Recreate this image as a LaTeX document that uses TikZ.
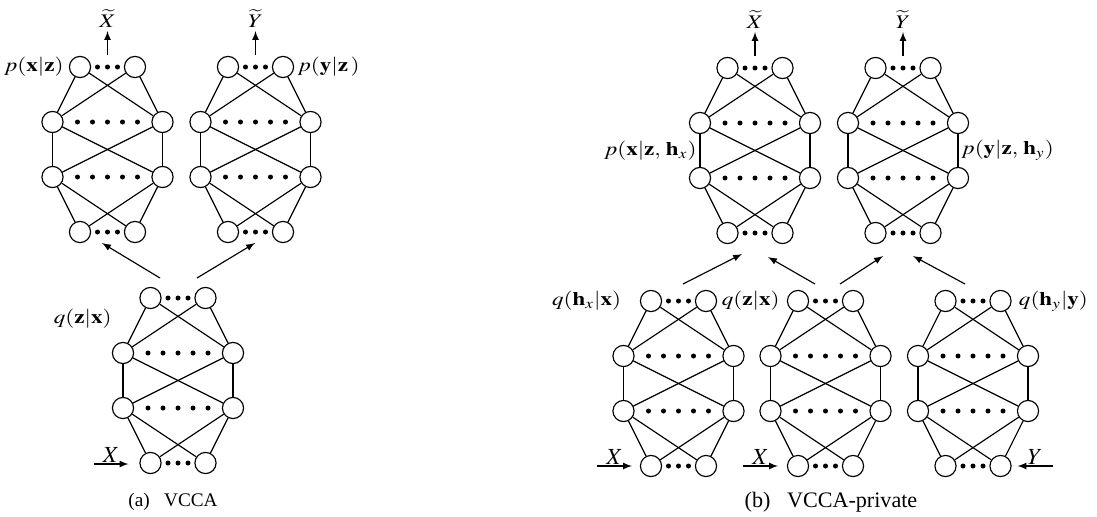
\documentclass[tikz,border=0pt]{standalone}
\usepackage{graphicx}
\usepackage{mathptmx}
\usepackage{fontspec}
\setmainfont{Liberation Serif}
\usetikzlibrary{arrows,positioning,calc}

\tikzset{neuron/.style={draw,circle,minimum size=11pt,inner sep=0pt},
	lbl/.style={inner sep=1.5pt},
	inp/.style={midway,above,inner sep=0.5pt,font=\fontsize{12}{14}\selectfont}}

\newcommand{\wide}[1]{\scalebox{1.2}[1]{#1}}

\newcommand{\mlp}[3]{%
	\node[neuron] (#1-11) at (#2-27.5,#3) {};
	\node[neuron] (#1-12) at (#2+27.5,#3) {};
	\node[neuron] (#1-21) at (#2-55,#3+55) {};
	\node[neuron] (#1-22) at (#2+55,#3+55) {};
	\node[neuron] (#1-31) at (#2-55,#3+110) {};
	\node[neuron] (#1-32) at (#2+55,#3+110) {};
	\node[neuron] (#1-41) at (#2-27.5,#3+165) {};
	\node[neuron] (#1-42) at (#2+27.5,#3+165) {};
	\foreach \i/\j in {1/2,2/3,3/4}
		\foreach \a in {1,2}
			\foreach \b in {1,2}
				\draw (#1-\i\a) -- (#1-\j\b);
	\foreach \k in {-1,0,1}
		\fill (#2+10*\k,#3) circle (1.3pt) (#2+10*\k,#3+165) circle (1.3pt);
	\foreach \k in {-2,...,2}
		\fill (#2+15*\k,#3+55) circle (1.3pt) (#2+15*\k,#3+110) circle (1.3pt);
}

\begin{document}
\begin{tikzpicture}[x=0.52pt,y=-0.52pt,line width=0.6pt]
		\useasboundingbox (0,0) rectangle (1097,516);
		\mlp{dx}{107.5}{67}
		\mlp{dy}{255.5}{67}
		\mlp{enc}{178}{298}
		\draw [-latex] ($(dx-11)!.5!(dx-12)+(0,-12)$) -- +(0,-24) node[above,lbl] {\wide{$\widetilde{X}$}};
		\draw [-latex] ($(dy-11)!.5!(dy-12)+(0,-12)$) -- +(0,-24) node[above,lbl] {\wide{$\widetilde{Y}$}};
		\coordinate (e1) at (160,278); \coordinate (e2) at (197,278);
		\coordinate (d1) at (102,243); \coordinate (d2) at (255,243);
		\draw [-latex] (e1) -- (d1);
		\draw [-latex] (e2) -- (d2);
		\draw [-latex] ($(enc-41)+(-57,1)$) -- ($(enc-41)+(-22,1)$) node[inp] {$X$};
		\node[lbl,left=1pt of dx-11] {\wide{$p(\mathbf{x}|\mathbf{z})$}};
		\node[lbl,right=0pt of dy-12] {\wide{$p(\mathbf{y}|\mathbf{z}\,)$}};
		\node[lbl,anchor=east] at (115,319) {\wide{$q(\mathbf{z}|\mathbf{x})$}};
		\node (capa) at (173,502) {(a)\enspace\ VCCA};

		\mlp{bx}{755}{68}
		\mlp{by}{903}{68}
		\mlp{hx}{678.5}{301}
		\mlp{z}{825.5}{301}
		\mlp{hy}{973}{301}
		\draw [-latex] ($(bx-11)!.5!(bx-12)+(0,-12)$) -- +(0,-24) node[above,lbl] {\wide{$\widetilde{X}$}};
		\draw [-latex] ($(by-11)!.5!(by-12)+(0,-12)$) -- +(0,-24) node[above,lbl] {\wide{$\widetilde{Y}$}};
		\coordinate (h1) at (683,284); \coordinate (t1) at (742,254);
		\coordinate (h2) at (815,284); \coordinate (t2) at (768,257);
		\coordinate (h3) at (840,284); \coordinate (t3) at (883,256);
		\coordinate (h4) at (965,284); \coordinate (t4) at (913,256);
		\draw [-latex] (h1) -- (t1);
		\draw [-latex] (h2) -- (t2);
		\draw [-latex] (h3) -- (t3);
		\draw [-latex] (h4) -- (t4);
		\draw [-latex] ($(hx-41)+(-54,0)$) -- ($(hx-41)+(-19,0)$) node[inp] {$X$};
		\draw [-latex] ($(z-41)+(-55,0)$) -- ($(z-41)+(-20,0)$) node[inp] {$X$};
		\draw [-latex] ($(hy-42)+(52,0)$) -- ($(hy-42)+(17,0)$) node[inp] {$Y$};
		\node[lbl,anchor=east] at ($(bx-21)!.5!(bx-31)$) {\wide{$p(\mathbf{x}|\mathbf{z},\,\mathbf{h}_x)$}};
		\node[lbl,anchor=west] at ($(by-22)!.5!(by-32)$) {\wide{$p(\mathbf{y}|\mathbf{z},\,\mathbf{h}_y)$}};
		\node[lbl,left=8pt of hx-11] {\wide{$q(\mathbf{h}_x|\mathbf{x})$}};
		\node[lbl,left=2pt of z-11] {\wide{$q(\mathbf{z}|\mathbf{x})$}};
		\node[lbl,right=2pt of hy-12] {\wide{$q(\mathbf{h}_y|\mathbf{y})$}};
		\node (capb) at (831,502) {\fontsize{11.5}{14}\selectfont (b)\enspace\ VCCA-private};
\end{tikzpicture}
\end{document}
